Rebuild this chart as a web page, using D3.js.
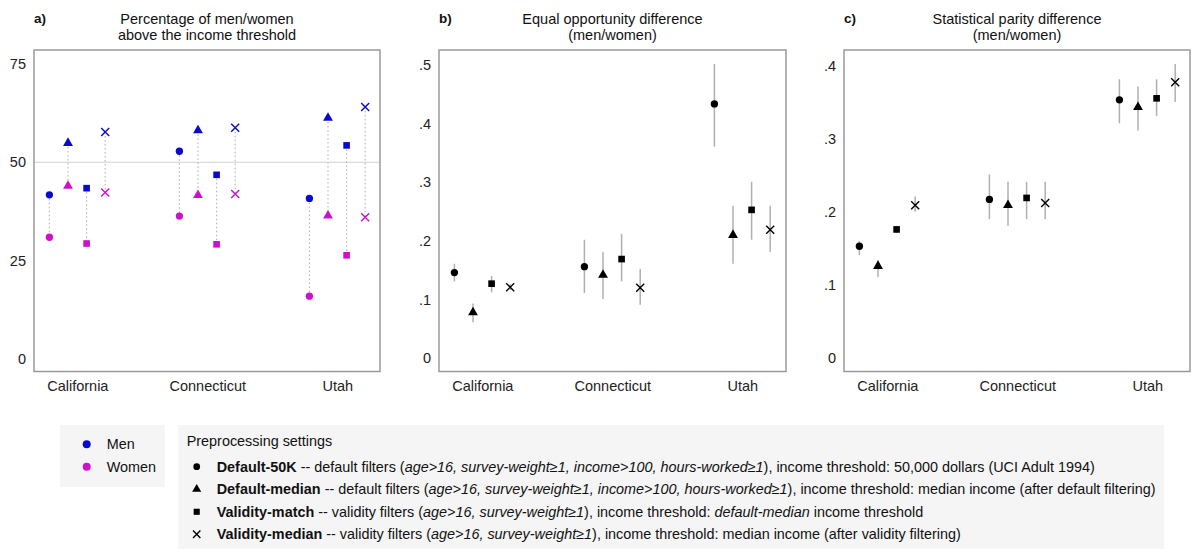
<!DOCTYPE html>
<html><head><meta charset="utf-8">
<script src="https://cdn.jsdelivr.net/npm/d3@7"></script>
<style>
body{margin:0;background:#fff;}
text{font-family:"Liberation Sans",Arial,Helvetica,sans-serif;}
</style></head>
<body><svg id="c" width="1200" height="553"></svg>
<script>
// ---------- data ----------
const states = ["California", "Connecticut", "Utah"];
const settings = ["Default-50K", "Default-median", "Validity-match", "Validity-median"];
const settingShapes = ["circle", "triangle", "square", "x"];

// panel a: percentage above income threshold (rows = states, cols = settings)
const menPct = [
  [41.7, 54.9, 43.4, 57.7],
  [52.8, 58.1, 46.8, 58.8],
  [40.8, 61.3, 54.3, 64.1]
];
const womenPct = [
  [30.9, 44.0, 29.3, 42.3],
  [36.3, 41.6, 29.1, 41.9],
  [15.9, 36.4, 26.3, 36.0]
];
// panel b: equal opportunity difference
const eodValue = [
  [0.146, 0.078, 0.127, 0.121],
  [0.156, 0.142, 0.169, 0.120],
  [0.434, 0.210, 0.253, 0.219]
];
const eodLow = [
  [0.131, 0.061, 0.112, 0.116],
  [0.111, 0.101, 0.131, 0.091],
  [0.361, 0.161, 0.202, 0.181]
];
const eodHigh = [
  [0.161, 0.093, 0.140, 0.126],
  [0.202, 0.181, 0.212, 0.152],
  [0.502, 0.260, 0.301, 0.260]
];
// panel c: statistical parity difference
const spdValue = [
  [0.153, 0.126, 0.176, 0.209],
  [0.217, 0.209, 0.219, 0.212],
  [0.353, 0.343, 0.355, 0.377]
];
const spdLow = [
  [0.141, 0.111, 0.171, 0.200],
  [0.190, 0.181, 0.190, 0.190],
  [0.321, 0.311, 0.331, 0.350]
];
const spdHigh = [
  [0.160, 0.134, 0.181, 0.221],
  [0.251, 0.241, 0.241, 0.241],
  [0.381, 0.371, 0.381, 0.402]
];
const ticksA = [0, 25, 50, 75];
const ticksB = [0, 0.1, 0.2, 0.3, 0.4, 0.5];
const ticksC = [0, 0.1, 0.2, 0.3, 0.4];
const refLineA = [50];
const genders = ["Men", "Women"];
const genderColors = ["#0a0acc", "#cc10cc"];

// ---------- drawing ----------
const svg = d3.select("#c");
const fontStack = '"Liberation Sans",Arial,Helvetica,sans-serif';
const FS = 14.5;
const LFS = 14.4;

const symX = {
  draw(ctx, size) {
    const r = Math.sqrt(size) / 2;
    ctx.moveTo(-r, -r); ctx.lineTo(r, r);
    ctx.moveTo(r, -r); ctx.lineTo(-r, r);
  }
};
const symTypes = {circle: d3.symbolCircle, triangle: d3.symbolTriangle, square: d3.symbolSquare, x: symX};
const symSizes = {circle: 42, triangle: 42, square: 44, x: 64};
function drawSymbol(g, shape, x, y, color, scale = 1) {
  const p = g.append("path")
    .attr("d", d3.symbol().type(symTypes[shape]).size(symSizes[shape] * scale)())
    .attr("transform", `translate(${x},${y})`);
  if (shape === "x") p.attr("fill", "none").attr("stroke", color).attr("stroke-width", 1.4);
  else p.attr("fill", color);
  return p;
}

const frameTop = 50, frameBottom = 371.5;
const panels = [
  {id: "a)", left: 34, right: 380, domain: [-3.3, 78.6], ticks: ticksA, fmt: d => String(d),
   title: ["Percentage of men/women", "above the income threshold"]},
  {id: "b)", left: 439, right: 786, domain: [-0.023, 0.526], ticks: ticksB, fmt: d => d === 0 ? "0" : d3.format(".1f")(d).replace(/^0/, ""),
   title: ["Equal opportunity difference", "(men/women)"]},
  {id: "c)", left: 844, right: 1190, domain: [-0.018, 0.421], ticks: ticksC, fmt: d => d === 0 ? "0" : d3.format(".1f")(d).replace(/^0/, ""),
   title: ["Statistical parity difference", "(men/women)"]}
];

panels.forEach((p, pi) => {
  const g = svg.append("g");
  const y = d3.scaleLinear().domain(p.domain).range([frameBottom, frameTop]);
  const x = d3.scalePoint().domain(states).range([p.left + 43.3, p.left + 303.3]);
  const off = d3.scalePoint().domain(settings).range([-27.9, 27.9]);

  // title
  const cx = (p.left + p.right) / 2;
  g.append("text").attr("x", p.left).attr("y", 23).attr("font-weight", "bold")
    .attr("font-size", 13.5).attr("fill", "#111").text(p.id);
  p.title.forEach((t, i) => g.append("text").attr("x", cx).attr("y", 24 + i * 15.5)
    .attr("text-anchor", "middle").attr("font-size", FS).attr("fill", "#111").text(t));

  // reference line (panel a)
  if (pi === 0) {
    g.selectAll("line.ref").data(refLineA).join("line")
      .attr("x1", p.left).attr("x2", p.right)
      .attr("y1", d => y(d)).attr("y2", d => y(d))
      .attr("stroke", "#d0d0d0").attr("stroke-width", 1);
  }

  // y axis
  const ya = d3.axisLeft(y).tickValues(p.ticks).tickSize(0).tickPadding(8).tickFormat(p.fmt);
  const yg = g.append("g").attr("transform", `translate(${p.left},0)`).call(ya);
  yg.select(".domain").remove();
  yg.selectAll("text").attr("font-size", FS).attr("fill", "#222").style("font-family", fontStack);

  // x axis
  const xa = d3.axisBottom(x).tickSize(0).tickPadding(0);
  const xg = g.append("g").attr("transform", `translate(0,${frameBottom})`).call(xa);
  xg.select(".domain").remove();
  xg.selectAll("text").attr("font-size", FS).attr("fill", "#222").attr("dy", "1.05em")
    .attr("y", 4.5).style("font-family", fontStack);

  if (pi === 0) {
    // dotted connectors
    states.forEach((s, si) => settings.forEach((st, ki) => {
      g.append("line").attr("x1", x(s) + off(st)).attr("x2", x(s) + off(st))
        .attr("y1", y(menPct[si][ki])).attr("y2", y(womenPct[si][ki]))
        .attr("stroke", "#b8b8b8").attr("stroke-width", 1.2).attr("stroke-dasharray", "1.5,2.5");
    }));
    [menPct, womenPct].forEach((arr, gi) => {
      states.forEach((s, si) => settings.forEach((st, ki) => {
        drawSymbol(g, settingShapes[ki], x(s) + off(st), y(arr[si][ki]), genderColors[gi]);
      }));
    });
  } else {
    const val = pi === 1 ? eodValue : spdValue;
    const lo = pi === 1 ? eodLow : spdLow;
    const hi = pi === 1 ? eodHigh : spdHigh;
    states.forEach((s, si) => settings.forEach((st, ki) => {
      g.append("line").attr("x1", x(s) + off(st)).attr("x2", x(s) + off(st))
        .attr("y1", y(lo[si][ki])).attr("y2", y(hi[si][ki]))
        .attr("stroke", "#b0b0b0").attr("stroke-width", 1.5);
    }));
    states.forEach((s, si) => settings.forEach((st, ki) => {
      drawSymbol(g, settingShapes[ki], x(s) + off(st), y(val[si][ki]), "#000");
    }));
  }

  // frame
  g.append("rect").attr("x", p.left).attr("y", frameTop)
    .attr("width", p.right - p.left).attr("height", frameBottom - frameTop)
    .attr("fill", "none").attr("stroke", "#9a9a9a").attr("stroke-width", 1.5);
});

// ---------- legends ----------
const lg = svg.append("g");
lg.append("rect").attr("x", 60).attr("y", 425).attr("width", 105).attr("height", 62).attr("fill", "#f5f5f5");
const gy = d3.scalePoint().domain(genders).range([444.3, 466.7]);
genders.forEach((gname, i) => {
  lg.append("circle").attr("cx", 86.7).attr("cy", gy(gname)).attr("r", 4).attr("fill", genderColors[i]);
  lg.append("text").attr("x", 106.7).attr("y", gy(gname)).attr("dy", "0.35em")
    .attr("font-size", LFS).attr("fill", "#111").text(gname);
});

lg.append("rect").attr("x", 178).attr("y", 425).attr("width", 986).attr("height", 124).attr("fill", "#f5f5f5");
lg.append("text").attr("x", 186.7).attr("y", 441).attr("dy", "0.35em").attr("font-size", LFS)
  .attr("fill", "#111").text("Preprocessing settings");

const italicFilters = "age>16, survey-weight≥1, income>100, hours-worked≥1";
const italicValidity = "age>16, survey-weight≥1";
const settingDescriptions = [
  [["b", "Default-50K"], ["n", " -- default filters ("], ["i", italicFilters], ["n", "), income threshold: 50,000 dollars (UCI Adult 1994)"]],
  [["b", "Default-median"], ["n", " -- default filters ("], ["i", italicFilters], ["n", "), income threshold: median income (after default filtering)"]],
  [["b", "Validity-match"], ["n", " -- validity filters ("], ["i", italicValidity], ["n", "), income threshold: "], ["i", "default-median"], ["n", " income threshold"]],
  [["b", "Validity-median"], ["n", " -- validity filters ("], ["i", italicValidity], ["n", "), income threshold: median income (after validity filtering)"]]
];
const sy = d3.scalePoint().domain(settings).range([466.7, 534.3]);
settings.forEach((st, i) => {
  drawSymbol(lg, settingShapes[i], 196.7, sy(st), "#000", 0.85);
  const t = lg.append("text").attr("x", 216.7).attr("y", sy(st)).attr("dy", "0.35em")
    .attr("font-size", LFS).attr("fill", "#111");
  settingDescriptions[i].forEach(([k, s]) => {
    const ts = t.append("tspan").text(s);
    if (k === "b") ts.attr("font-weight", "bold");
    if (k === "i") ts.attr("font-style", "italic");
  });
});
</script></body></html>
